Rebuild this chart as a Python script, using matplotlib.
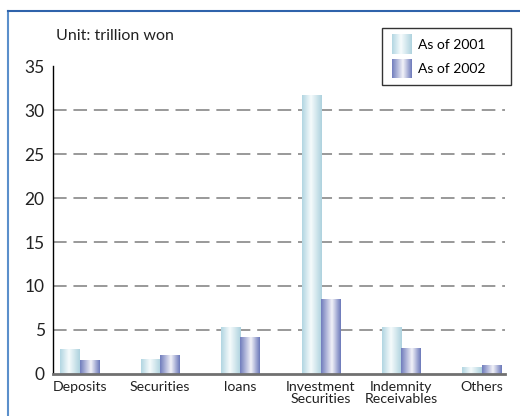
import numpy as np
import matplotlib
matplotlib.use("Agg")
import matplotlib.pyplot as plt
from matplotlib.colors import LinearSegmentedColormap
from matplotlib.legend_handler import HandlerBase
from matplotlib.patches import Rectangle
from matplotlib.lines import Line2D

plt.rcParams['font.family'] = ['Lato', 'DejaVu Sans']

categories = ["Deposits", "Securities", "loans", "Investment\nSecurities", "Indemnity\nReceivables", "Others"]
series_names = ["As of 2001", "As of 2002"]
values_2001 = [2.8, 1.6, 5.3, 31.7, 5.3, 0.7]
values_2002 = [1.5, 2.1, 4.2, 8.5, 2.9, 0.95]
yticks = [0, 5, 10, 15, 20, 25, 30, 35]

cmap01 = LinearSegmentedColormap.from_list("c01", [(0, "#b2d6e2"), (0.45, "#f6fbfc"), (1, "#aed2de")])
cmap02 = LinearSegmentedColormap.from_list("c02", [(0, "#717dbd"), (0.55, "#f2f2f8"), (1, "#6c79ba")])

fig = plt.figure(figsize=(5.2, 4.16), dpi=100)
ax = fig.add_axes([53/520, 1-374/416, (505-53)/520, (374-66)/416])

x = np.arange(len(categories))
w = 0.24
grad = np.linspace(0, 1, 64).reshape(1, -1)
for vals, off, cm in [(values_2001, -w/2, cmap01), (values_2002, w/2, cmap02)]:
    bars = ax.bar(x + off, vals, width=w, facecolor='none', edgecolor='none', zorder=3)
    for b in bars:
        x0, y0 = b.get_x(), b.get_y()
        ax.imshow(grad, extent=(x0, x0 + b.get_width(), y0, y0 + b.get_height()),
                  aspect='auto', cmap=cm, zorder=3, interpolation='bilinear')

ax.set_xlim(-0.33, 5.29)
ax.set_ylim(0, 35)
ax.set_yticks(yticks)
ax.set_yticklabels([str(t) for t in yticks], fontsize=12.5, color='#222222')
ax.set_xticks(x)
ax.set_xticklabels(categories, fontsize=10.2, color='#222222', linespacing=1.05)
ax.tick_params(axis='both', length=0)
ax.tick_params(axis='y', pad=6)
ax.tick_params(axis='x', pad=5)

for t in yticks[1:-1]:
    ax.axhline(t, color='#999999', lw=1.4, ls=(0, (7, 3.5)), zorder=1)

for s in ['top', 'right']:
    ax.spines[s].set_visible(False)
ax.spines['left'].set_color('black')
ax.spines['left'].set_linewidth(1.0)
ax.spines['bottom'].set_color('#707070')
ax.spines['bottom'].set_linewidth(2.0)
ax.spines['bottom'].set_zorder(4)

fig.text(56/520, 1-36/416, "Unit: trillion won", fontsize=11.5, va='center', ha='left', color='#222222')

# figure border (left and top)
fig.add_artist(Line2D([8/520, 8/520], [0, 1-11/416], transform=fig.transFigure, color='#5b8fcb', lw=1.5))
fig.add_artist(Line2D([8/520, 1], [1-11/416, 1-11/416], transform=fig.transFigure, color='#2f63ab', lw=1.5))


class GradHandler(HandlerBase):
    def __init__(self, cm):
        super().__init__()
        self.cm = cm

    def create_artists(self, legend, orig_handle, xdescent, ydescent, width, height, fontsize, trans):
        arts = []
        n = 20
        for i in range(n):
            r = Rectangle((-xdescent + width * i / n, -ydescent - 2.5), width / n + 0.3, height + 5,
                          facecolor=self.cm((i + 0.5) / n), edgecolor='none', transform=trans)
            arts.append(r)
        return arts


h1 = Rectangle((0, 0), 1, 1)
h2 = Rectangle((0, 0), 1, 1)
leg = fig.legend([h1, h2], series_names, loc='upper left',
                 bbox_to_anchor=(382/520, 1-89/416, 129/520, 61/416), mode='expand',
                 handler_map={h1: GradHandler(cmap01), h2: GradHandler(cmap02)},
                 fontsize=10, frameon=True, fancybox=False, edgecolor='black',
                 handlelength=1.45, handleheight=1.0, handletextpad=0.45, labelspacing=0.85,
                 borderpad=0.7, borderaxespad=0)
leg.get_frame().set_linewidth(1.0)

fig.savefig("out.png", dpi=100)
